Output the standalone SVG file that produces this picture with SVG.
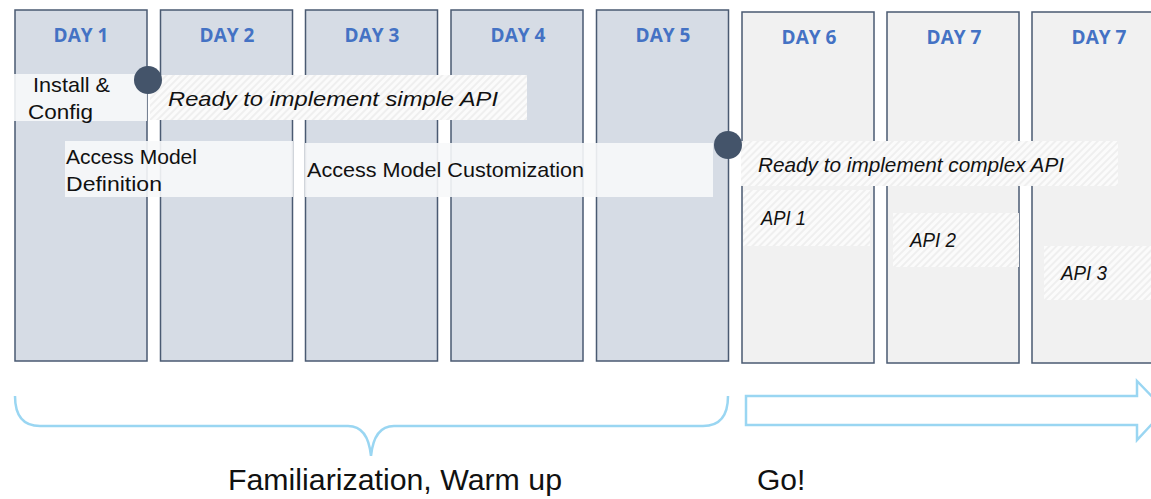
<svg xmlns="http://www.w3.org/2000/svg" width="1151" height="499" viewBox="0 0 1151 499">
<style>
.col1{fill:#d6dce5;stroke:#4a5a72;stroke-width:1.5}
.col2{fill:#f1f1f1;stroke:#4a5a72;stroke-width:1.5}
.day{font-family:"Open Sans","Liberation Sans",sans-serif;font-weight:bold;font-size:19px;fill:#4472c4;text-anchor:middle}
.t{font-family:"Liberation Sans",Arial,sans-serif;font-size:21px;fill:#111}
.ti{font-family:"Liberation Sans",Arial,sans-serif;font-size:21px;font-style:italic;fill:#111}
.box{fill:#f7f8fa;fill-opacity:0.9}
.hatch{fill:url(#hatch)}
.dot{fill:#44546a}
.blue{fill:none;stroke:#9ad6f2;stroke-width:2.5}
.big{font-family:"Liberation Sans",Arial,sans-serif;font-size:30px;fill:#111}
</style>
<defs>
<pattern id="hatch" width="5" height="5" patternUnits="userSpaceOnUse" patternTransform="rotate(45)">
<rect width="5" height="5" fill="#fbfbfb"/>
<rect width="2" height="5" fill="#efefef"/>
</pattern>
</defs>
<g id="columns">
<g id="day1"><rect class="col1" x="15" y="10" width="132" height="351"/><text class="day" x="81" y="42">DAY 1</text></g>
<g id="day2"><rect class="col1" x="160.5" y="10" width="132" height="351"/><text class="day" x="227" y="42">DAY 2</text></g>
<g id="day3"><rect class="col1" x="305.5" y="10" width="132" height="351"/><text class="day" x="372" y="42">DAY 3</text></g>
<g id="day4"><rect class="col1" x="451" y="10" width="132" height="351"/><text class="day" x="518" y="42">DAY 4</text></g>
<g id="day5"><rect class="col1" x="596.5" y="10" width="132" height="351"/><text class="day" x="663" y="42">DAY 5</text></g>
<g id="day6"><rect class="col2" x="742" y="12" width="132" height="351"/><text class="day" x="809" y="44">DAY 6</text></g>
<g id="day7"><rect class="col2" x="887" y="12" width="132" height="351"/><text class="day" x="954" y="44">DAY 7</text></g>
<g id="day7b"><rect class="col2" x="1032" y="12" width="132" height="351"/><text class="day" x="1099" y="44">DAY 7</text></g>
</g>
<g id="install"><rect class="box" x="14" y="74" width="133" height="47"/><text class="t" x="33" y="92" textLength="77" lengthAdjust="spacingAndGlyphs">Install &amp;</text><text class="t" x="28" y="119" textLength="65" lengthAdjust="spacingAndGlyphs">Config</text></g>
<g id="ready-simple"><rect class="hatch" x="150" y="75" width="377" height="45"/><text class="ti" x="168" y="106" textLength="330" lengthAdjust="spacingAndGlyphs">Ready to implement simple API</text></g>
<g id="amd"><rect class="box" x="65" y="141" width="228" height="56"/><text class="t" x="66" y="164" textLength="131" lengthAdjust="spacingAndGlyphs">Access Model</text><text class="t" x="66" y="191" textLength="96" lengthAdjust="spacingAndGlyphs">Definition</text></g>
<g id="amc"><rect class="box" x="305" y="143" width="408" height="54"/><text class="t" x="307" y="177" textLength="277" lengthAdjust="spacingAndGlyphs">Access Model Customization</text></g>
<g id="ready-complex"><rect class="hatch" x="741" y="141" width="377" height="45"/><text class="ti" x="758" y="172" textLength="306" lengthAdjust="spacingAndGlyphs">Ready to implement complex API</text></g>
<g id="api1"><rect class="hatch" x="743" y="190" width="127" height="56"/><text class="ti" x="761" y="225" textLength="45" lengthAdjust="spacingAndGlyphs">API 1</text></g>
<g id="api2"><rect class="hatch" x="893" y="213" width="126" height="54"/><text class="ti" x="910" y="247" textLength="46" lengthAdjust="spacingAndGlyphs">API 2</text></g>
<g id="api3"><rect class="hatch" x="1044" y="246" width="107" height="54"/><text class="ti" x="1061" y="280" textLength="46" lengthAdjust="spacingAndGlyphs">API 3</text></g>
<g id="milestone1"><circle class="dot" cx="148" cy="80" r="14"/></g>
<g id="milestone2"><circle class="dot" cx="728" cy="145" r="14"/></g>
<g id="connectors">
<path class="blue" d="M15 396 Q15 426 40 426 L348 426 Q368 426 371 456 Q374 426 394 426 L703 426 Q728 426 728 396"/>
<path class="blue" d="M746 396 L1137 396 L1137 381 L1165 410 L1137 440 L1137 425 L746 425 Z"/>
</g>
<g id="labels">
<text class="big" x="228" y="490" textLength="334" lengthAdjust="spacingAndGlyphs">Familiarization, Warm up</text>
<text class="big" x="757" y="490">Go!</text>
</g>
</svg>
